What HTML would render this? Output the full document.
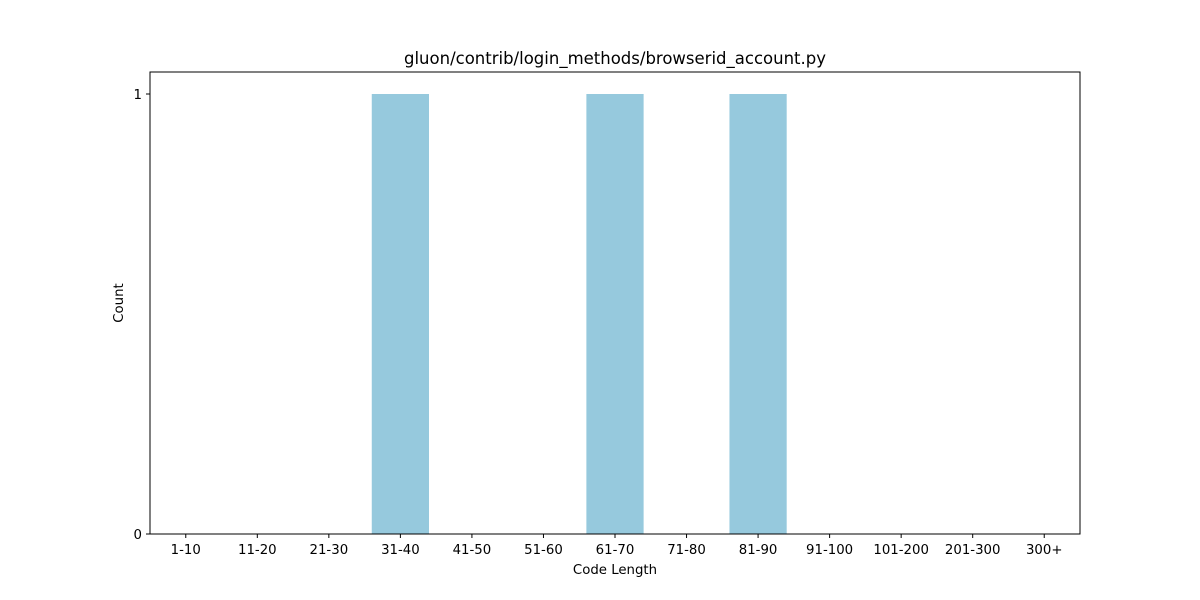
<!DOCTYPE html>
<html>
<head>
<meta charset="utf-8">
<style>
  html, body { margin: 0; padding: 0; background: #fff; }
  svg { display: block; font-family: "DejaVu Sans", "Liberation Sans", sans-serif; }
</style>
</head>
<body>
<svg id="chart" width="1200" height="600" viewBox="0 0 1200 600">
  <text x="615" y="64" font-size="16.5" text-anchor="middle" fill="#000">gluon/contrib/login_methods/browserid_account.py</text>
  <g id="bars"></g>
  <g id="xticks"></g>
  <g id="yticks"></g>
  <rect x="150" y="72" width="930" height="462" fill="none" stroke="#000" stroke-width="1"/>
  <text x="615" y="574" font-size="13.3" text-anchor="middle">Code Length</text>
  <text x="123" y="303" font-size="13.3" text-anchor="middle" transform="rotate(-90 123 303)">Count</text>
</svg>
<script>
const categories = ["1-10","11-20","21-30","31-40","41-50","51-60","61-70","71-80","81-90","91-100","101-200","201-300","300+"];
const counts = [0,0,0,1,0,0,1,0,1,0,0,0,0];
const yTicks = [0,1];

const L = 150, R = 1080, T = 72, B = 534;
const yMax = 1.05;
const step = (R - L) / categories.length;
const xCenter = i => L + step * (i + 0.5);
const yPos = v => B - (v / yMax) * (B - T);
const ns = "http://www.w3.org/2000/svg";
const bars = document.getElementById("bars");
const xg = document.getElementById("xticks");
const yg = document.getElementById("yticks");
const bw = step * 0.8;

categories.forEach((c, i) => {
  const v = counts[i];
  if (v > 0) {
    const r = document.createElementNS(ns, "rect");
    r.setAttribute("x", xCenter(i) - bw / 2);
    r.setAttribute("y", yPos(v));
    r.setAttribute("width", bw);
    r.setAttribute("height", B - yPos(v));
    r.setAttribute("fill", "#96c9dd");
    
    
    bars.appendChild(r);
  }
  const t = document.createElementNS(ns, "line");
  t.setAttribute("x1", xCenter(i)); t.setAttribute("x2", xCenter(i));
  t.setAttribute("y1", B); t.setAttribute("y2", B + 4);
  t.setAttribute("stroke", "#000");
  
  
  xg.appendChild(t);
  const lb = document.createElementNS(ns, "text");
  lb.setAttribute("x", xCenter(i)); lb.setAttribute("y", B + 20);
  lb.setAttribute("font-size", "13.3"); lb.setAttribute("text-anchor", "middle");
  lb.textContent = c;
  
  
  xg.appendChild(lb);
});

yTicks.forEach(v => {
  const t = document.createElementNS(ns, "line");
  t.setAttribute("x1", L - 4); t.setAttribute("x2", L);
  t.setAttribute("y1", yPos(v)); t.setAttribute("y2", yPos(v));
  t.setAttribute("stroke", "#000");
  
  
  yg.appendChild(t);
  const lb = document.createElementNS(ns, "text");
  lb.setAttribute("x", L - 8); lb.setAttribute("y", yPos(v) + 5);
  lb.setAttribute("font-size", "13.3"); lb.setAttribute("text-anchor", "end");
  lb.textContent = v;
  
  
  yg.appendChild(lb);
});
</script>
</body>
</html>
